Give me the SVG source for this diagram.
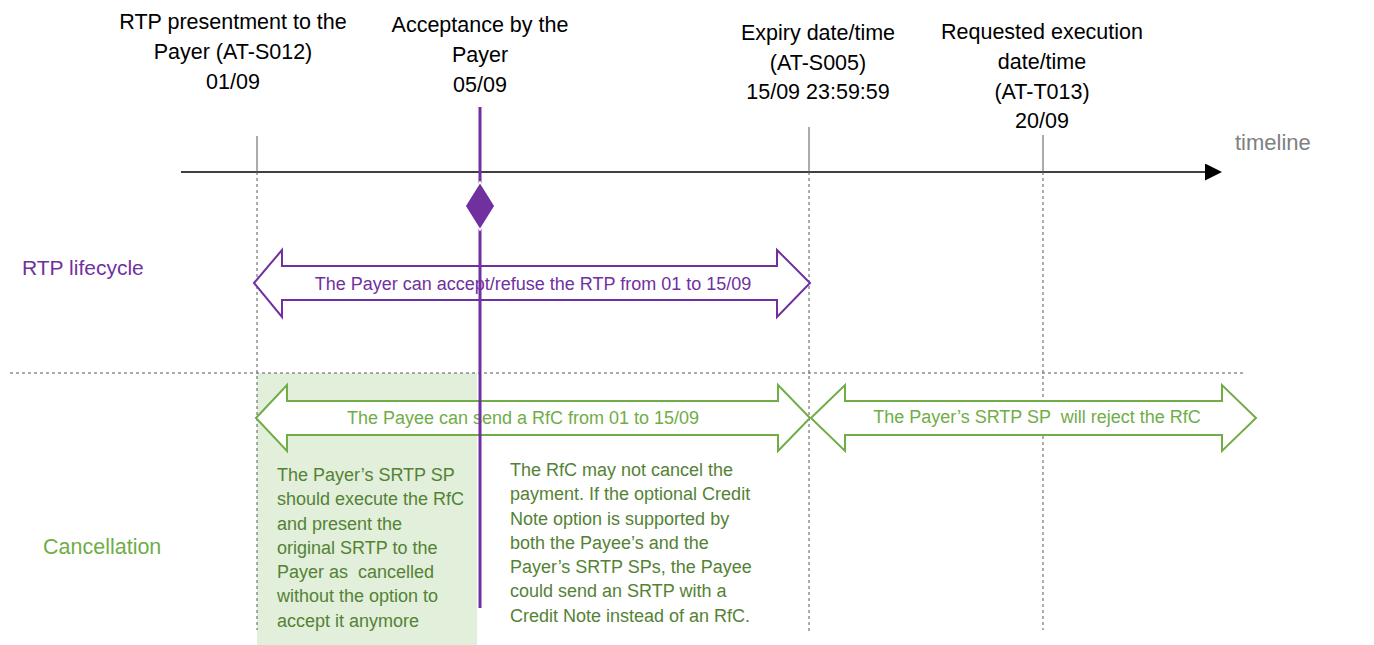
<svg xmlns="http://www.w3.org/2000/svg" width="1374" height="645" viewBox="0 0 1374 645">
<defs>
<style>
text{font-family:"Liberation Sans",Arial,sans-serif}
.hdr{font-size:21.5px;fill:#000;text-anchor:middle}
.tl{font-size:22px;fill:#7f7f7f}
.pu{fill:#7030a0}
.gr{fill:#70ad47}
.dg{fill:#548235;font-size:18px}
.pre{white-space:pre}
.dash{stroke:#595959;stroke-width:1;stroke-dasharray:3 3;fill:none}
.tick{stroke:#595959;stroke-width:1;fill:none}
.parrow{fill:#fff;stroke:#7030a0;stroke-width:2}
.garrow{fill:#fff;stroke:#70ad47;stroke-width:2}
.atxt{font-size:18px;text-anchor:middle}
</style>
<marker id="tri" viewBox="0 0 10 10" refX="0" refY="5" markerWidth="19" markerHeight="17" markerUnits="userSpaceOnUse" orient="auto">
<path d="M0,0 L10,5 L0,10 Z" fill="#000"/>
</marker>
</defs>

<rect id="green-area" x="257" y="373" width="220" height="272" fill="#e2efda"/>

<g id="connectors">
<line x1="181" y1="172" x2="1205" y2="172" stroke="#000" stroke-width="1.3" marker-end="url(#tri)"/>
<line class="tick" x1="257" y1="136" x2="257" y2="172"/>
<line class="dash" x1="257" y1="172" x2="257" y2="630"/>
<line class="tick" x1="809" y1="127" x2="809" y2="172"/>
<line class="dash" x1="809" y1="172" x2="809" y2="632"/>
<line class="tick" x1="1043" y1="135" x2="1043" y2="172"/>
<line class="dash" x1="1043" y1="172" x2="1043" y2="630"/>
<line class="dash" x1="10" y1="373" x2="1245" y2="373"/>
</g>

<g id="rtp-arrow">
<path class="parrow" d="M254,283 L282,250 L282,266 L777,266 L777,250 L810,283 L777,317 L777,300 L282,300 L282,317 Z"/>
<text class="atxt pu" x="533" y="290">The Payer can accept/refuse the RTP from 01 to 15/09</text>
</g>

<g id="rfc-arrow">
<path class="garrow" d="M256,418 L287,385 L287,401 L778,401 L778,385 L810,418 L778,451 L778,435 L287,435 L287,451 Z"/>
<text class="atxt gr" x="523" y="424">The Payee can send a RfC from 01 to 15/09</text>
</g>

<g id="reject-arrow">
<path class="garrow" d="M811,418 L845,385 L845,401 L1222,401 L1222,385 L1256,418 L1222,451 L1222,435 L845,435 L845,451 Z"/>
<text class="atxt gr pre" x="1037" y="423">The Payer’s SRTP SP  will reject the RfC</text>
</g>

<g id="acceptance">
<line x1="480" y1="107" x2="480" y2="608" stroke="#7030a0" stroke-width="3"/>
<path d="M480,182 L495,206 L480,230 L465,206 Z" fill="#7030a0" stroke="#fff" stroke-width="1.5"/>
</g>

<g id="label-presentment">
<text class="hdr" x="233" y="29">RTP presentment to the</text>
<text class="hdr" x="233" y="59">Payer (AT-S012)</text>
<text class="hdr" x="233" y="89">01/09</text>
</g>
<g id="label-acceptance">
<text class="hdr" x="480" y="32">Acceptance by the</text>
<text class="hdr" x="480" y="62">Payer</text>
<text class="hdr" x="480" y="92">05/09</text>
</g>
<g id="label-expiry">
<text class="hdr" x="818" y="40">Expiry date/time</text>
<text class="hdr" x="818" y="70">(AT-S005)</text>
<text class="hdr" x="818" y="99">15/09 23:59:59</text>
</g>
<g id="label-requested">
<text class="hdr" x="1042" y="39">Requested execution</text>
<text class="hdr" x="1042" y="69">date/time</text>
<text class="hdr" x="1042" y="99">(AT-T013)</text>
<text class="hdr" x="1042" y="128">20/09</text>
</g>
<g id="label-timeline">
<text class="tl" x="1235" y="150">timeline</text>
</g>

<g id="label-rtp-lifecycle">
<text class="pu" x="22" y="275" font-size="21">RTP lifecycle</text>
</g>
<g id="label-cancellation">
<text class="gr" x="43" y="554" font-size="21.5">Cancellation</text>
</g>

<g id="note-green">
<text class="dg" x="277" y="481">The Payer’s SRTP SP</text>
<text class="dg" x="277" y="505">should execute the RfC</text>
<text class="dg" x="277" y="530">and present the</text>
<text class="dg" x="277" y="554">original SRTP to the</text>
<text class="dg pre" x="277" y="578">Payer as  cancelled</text>
<text class="dg" x="277" y="602">without the option to</text>
<text class="dg" x="277" y="627">accept it anymore</text>
</g>

<g id="note-right">
<text class="dg" x="510" y="476">The RfC may not cancel the</text>
<text class="dg" x="510" y="500">payment. If the optional Credit</text>
<text class="dg" x="510" y="525">Note option is supported by</text>
<text class="dg" x="510" y="549">both the Payee’s and the</text>
<text class="dg" x="510" y="573">Payer’s SRTP SPs, the Payee</text>
<text class="dg" x="510" y="597">could send an SRTP with a</text>
<text class="dg" x="510" y="622">Credit Note instead of an RfC.</text>
</g>
</svg>
